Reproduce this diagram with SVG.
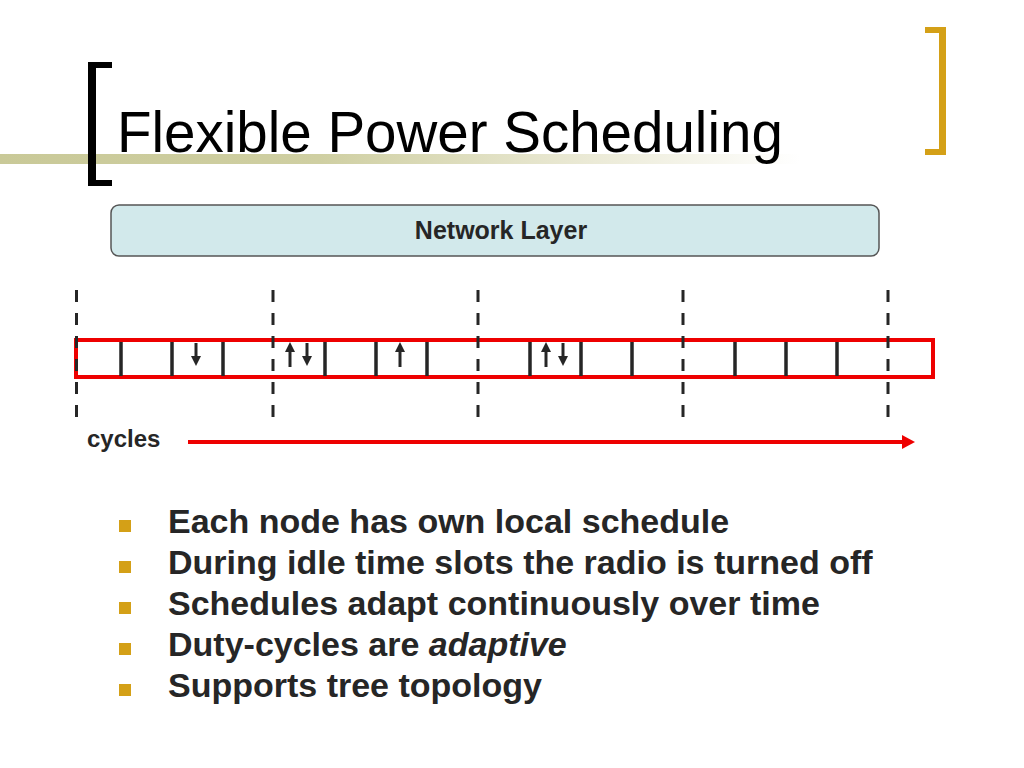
<svg xmlns="http://www.w3.org/2000/svg" width="1024" height="768" viewBox="0 0 1024 768">
<style>
  .title{font-family:"Liberation Sans",Arial,sans-serif;font-size:56.5px;fill:#000}
  .lbl{font-family:"Liberation Sans",Arial,sans-serif;font-weight:bold;fill:#262626}
  .bul{font-family:"Liberation Sans",Arial,sans-serif;font-weight:bold;font-size:34px;fill:#262626}
  .dash{stroke:#262626;stroke-width:3;stroke-dasharray:12 11;fill:none}
  .slot{stroke:#262626;stroke-width:3.5;fill:none}
  .sarrow{stroke:#262626;stroke-width:3;fill:none}
  .sq{fill:#d4a017}
</style>
<defs>
  <linearGradient id="band" x1="0" y1="0" x2="800" y2="0" gradientUnits="userSpaceOnUse">
    <stop offset="0" stop-color="#c9c998"/>
    <stop offset="0.4" stop-color="#cfcfa2"/>
    <stop offset="0.75" stop-color="#ecebd8"/>
    <stop offset="1" stop-color="#ffffff"/>
  </linearGradient>
  <marker id="headS" markerUnits="userSpaceOnUse" markerWidth="12" markerHeight="12" refX="0" refY="5" orient="auto">
    <path d="M0,0 L10,5 L0,10 Z" fill="#262626"/>
  </marker>
  <marker id="headR" markerUnits="userSpaceOnUse" markerWidth="16" markerHeight="16" refX="0" refY="7" orient="auto">
    <path d="M0,0 L13,7 L0,14 Z" fill="#ee0000"/>
  </marker>
</defs>
<rect width="1024" height="768" fill="#ffffff"/>

<g id="title">
  <rect x="0" y="154" width="800" height="10" fill="url(#band)"/>
  <path d="M112,62 H88 V186 H112 V180 H96 V68 H112 Z" fill="#000"/>
  <path d="M925,27 H946 V155 H925 V149 H939 V33 H925 Z" fill="#d4a017"/>
  <text class="title" x="117" y="152">Flexible Power Scheduling</text>
</g>

<g id="network-layer">
  <rect x="111" y="205" width="768" height="51" rx="8" ry="8" fill="#d2e9eb" stroke="#555" stroke-width="1.5"/>
  <text class="lbl" x="501" y="239" font-size="25" text-anchor="middle">Network Layer</text>
</g>

<g id="timeline">
  <rect x="76" y="340" width="857" height="37" fill="none" stroke="#ee0000" stroke-width="4"/>
  <path class="slot" d="M121,342V376 M172,342V376 M223,342V376 M325,342V376 M376,342V376 M427,342V376 M530,342V376 M581,342V376 M632,342V376 M735,342V376 M786,342V376 M837,342V376"/>
  <path class="dash" d="M76.5,290V418 M273,290V418 M478,290V418 M683,290V418 M888,290V418"/>
</g>

<g id="connectors">
  <line class="sarrow" x1="196" y1="343" x2="196" y2="356" marker-end="url(#headS)"/>
  <line class="sarrow" x1="290" y1="367" x2="290" y2="352" marker-end="url(#headS)"/>
  <line class="sarrow" x1="307" y1="343" x2="307" y2="356" marker-end="url(#headS)"/>
  <line class="sarrow" x1="400" y1="367" x2="400" y2="352" marker-end="url(#headS)"/>
  <line class="sarrow" x1="546" y1="367" x2="546" y2="352" marker-end="url(#headS)"/>
  <line class="sarrow" x1="563" y1="343" x2="563" y2="356" marker-end="url(#headS)"/>
  <line x1="188" y1="442" x2="902" y2="442" stroke="#ee0000" stroke-width="4" marker-end="url(#headR)"/>
</g>

<g id="cycles-label">
  <text class="lbl" x="87" y="447" font-size="24">cycles</text>
</g>

<g id="bullets">
  <rect class="sq" x="119" y="520" width="12" height="12"/>
  <text class="bul" x="168" y="533">Each node has own local schedule</text>
  <rect class="sq" x="119" y="561" width="12" height="12"/>
  <text class="bul" x="168" y="574">During idle time slots the radio is turned off</text>
  <rect class="sq" x="119" y="602" width="12" height="12"/>
  <text class="bul" x="168" y="615">Schedules adapt continuously over time</text>
  <rect class="sq" x="119" y="643" width="12" height="12"/>
  <text class="bul" x="168" y="656">Duty-cycles are <tspan font-style="italic">adaptive</tspan></text>
  <rect class="sq" x="119" y="684" width="12" height="12"/>
  <text class="bul" x="168" y="697">Supports tree topology</text>
</g>
</svg>
